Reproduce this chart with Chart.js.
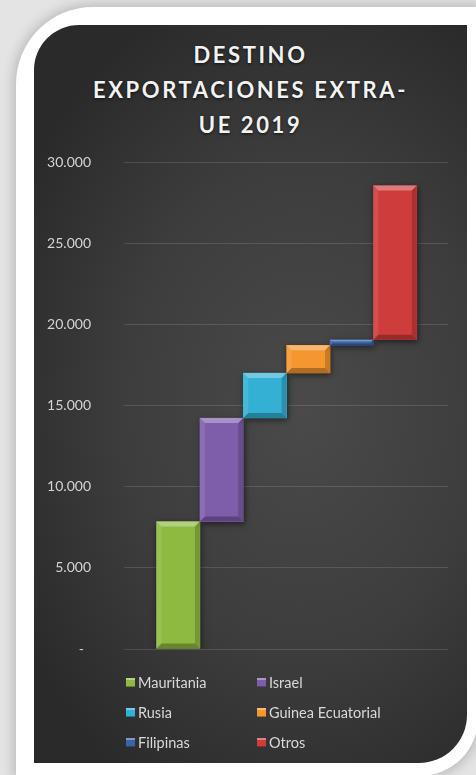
<!DOCTYPE html>
<html>
<head>
<meta charset="UTF-8">
<title>Destino exportaciones extra-UE 2019</title>
<script src="https://cdn.jsdelivr.net/npm/chart.js@4.4.1/dist/chart.umd.min.js"></script>
<style>
    html, body { margin: 0; padding: 0; }
    body {
        width: 476px; height: 775px; overflow: hidden; position: relative;
        background: #e4e4e4;
        font-family: Lato, "Open Sans", sans-serif;
    }
    #tarjeta {
        position: absolute; left: 16px; top: 7px; width: 462px; height: 769px;
        background: #fff;
        border-radius: 77px 0 58px 0;
        box-shadow: 0 0 12px 3px rgba(0, 0, 0, 0.18);
    }
    #panel {
        position: absolute; left: 34px; top: 25px; width: 433px; height: 738px;
        border-radius: 45px 0 48px 0;
        background: radial-gradient(ellipse 75% 60% at 62% 52%, #4a4a4a 0%, #3d3d3d 55%, #2a2a2a 100%);
    }
    #titulo {
        position: absolute; left: 34px; top: 37px; width: 433px;
        text-align: center;
        font: 700 22px Lato, sans-serif;
        letter-spacing: 2.6px;
        line-height: 35px;
        color: #f2f2f2;
        text-shadow: 0 1px 3px rgba(0, 0, 0, 0.7);
    }
    #grafico { position: absolute; left: 0; top: 0; }
    #leyenda {
        position: absolute; left: 126px; top: 667px;
        display: grid; grid-template-columns: 131px auto; grid-auto-rows: 30px;
        font: 14.5px Lato, sans-serif; color: #d9d9d9;
    }
    #leyenda div { display: flex; align-items: center; }
    #leyenda span.caja {
        display: inline-block; width: 9px; height: 9px; margin-right: 3px;
        box-shadow: inset 0 2px 0 rgba(255, 255, 255, 0.35), inset 0 -1px 0 rgba(0, 0, 0, 0.3);
    }
</style>
</head>
<body>
    <div id="tarjeta"></div>
    <div id="panel"></div>
    <div id="titulo">DESTINO<br>EXPORTACIONES EXTRA-<br>UE 2019</div>
    <canvas id="grafico" width="476" height="775"></canvas>
    <div id="leyenda"></div>

    <script>
        // datos (aprox.)
        var paises = ['Mauritania', 'Israel', 'Rusia', 'Guinea Ecuatorial', 'Filipinas', 'Otros'];
        var exportaciones = [7850, 6380, 2770, 1710, 340, 9500];
        var etiquetasY = ['-', '5.000', '10.000', '15.000', '20.000', '25.000', '30.000'];

        var colores = ['#8fba42', '#7e5eab', '#33b0d3', '#f5972f', '#3a64a8', '#cf3c3c'];

        // cascada: cada barra empieza donde acaba la anterior
        var inicio = [];
        var fin = [];
        var acumulado = 0;
        for (var i = 0; i < exportaciones.length; i++) {
            inicio.push(acumulado);
            acumulado += exportaciones[i];
            fin.push(acumulado);
        }

        // leyenda en dos columnas
        var leyenda = document.getElementById('leyenda');
        for (var j = 0; j < paises.length; j++) {
            var item = document.createElement('div');
            item.innerHTML = '<span class="caja" style="background:' + colores[j] + '"></span>' + paises[j];
            leyenda.appendChild(item);
        }

        function poligono(c, puntos, color) {
            c.beginPath();
            c.moveTo(puntos[0][0], puntos[0][1]);
            for (var k = 1; k < puntos.length; k++) c.lineTo(puntos[k][0], puntos[k][1]);
            c.closePath();
            c.fillStyle = color;
            c.fill();
        }

        // sombra y bisel tipo Excel
        var biselado = {
            id: 'biselado',
            beforeDatasetsDraw: function (chart) {
                var c = chart.ctx;
                c.save();
                c.shadowColor = 'rgba(0,0,0,0.55)';
                c.shadowBlur = 6;
                c.shadowOffsetX = 1;
                c.shadowOffsetY = 2;
            },
            afterDatasetsDraw: function (chart) {
                var c = chart.ctx;
                c.restore();
                chart.getDatasetMeta(0).data.forEach(function (bar) {
                    var p = bar.getProps(['x', 'y', 'base', 'width'], true);
                    var l = p.x - p.width / 2, r = p.x + p.width / 2;
                    var t = Math.min(p.y, p.base), b = Math.max(p.y, p.base);
                    var e = Math.min(5, (b - t) / 3);
                    poligono(c, [[l, t], [r, t], [r - e, t + e], [l + e, t + e]], 'rgba(255,255,255,0.32)');
                    poligono(c, [[l, b], [r, b], [r - e, b - e], [l + e, b - e]], 'rgba(0,0,0,0.28)');
                    poligono(c, [[l, t], [l + e, t + e], [l + e, b - e], [l, b]], 'rgba(255,255,255,0.10)');
                    poligono(c, [[r, t], [r - e, t + e], [r - e, b - e], [r, b]], 'rgba(0,0,0,0.18)');
                });
            }
        };

        var ctx = document.getElementById('grafico').getContext('2d');
        var grafico = new Chart(ctx, {
            type: 'bar',
            data: {
                datasets: [{
                    label: 'Exportaciones',
                    data: paises.map(function (p, i) { return { x: i, y: [inicio[i], fin[i]] }; }),
                    backgroundColor: colores,
                    borderWidth: 0,
                    barPercentage: 1,
                    categoryPercentage: 1
                }]
            },
            options: {
                responsive: false,
                animation: false,
                layout: { padding: { left: 40, right: 28, top: 162, bottom: 126 } },
                plugins: {
                    legend: { display: false },
                    tooltip: { enabled: false }
                },
                scales: {
                    x: {
                        type: 'linear', display: false, offset: false,
                        min: -1.25, max: 6.22,
                        ticks: { stepSize: 1, includeBounds: false },
                        grid: { display: false }
                    },
                    y: {
                        min: 0, max: 30000,
                        afterFit: function (scale) { scale.width = 84; },
                        border: { display: false },
                        grid: { color: 'rgba(255,255,255,0.13)', drawTicks: false },
                        ticks: {
                            stepSize: 5000,
                            padding: 33,
                            color: '#d4d4d4',
                            font: { family: 'Lato', size: 14 },
                            callback: function (v, i) { return i === 0 ? etiquetasY[0] + '  ' : etiquetasY[i]; }
                        }
                    }
                }
            },
            plugins: [biselado]
        });
    </script>
</body>
</html>
